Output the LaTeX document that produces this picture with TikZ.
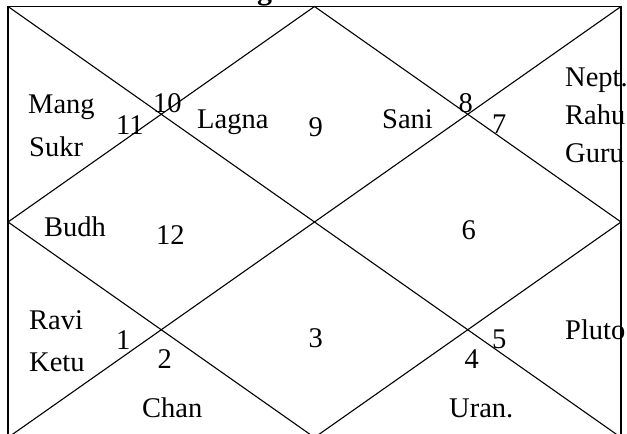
\documentclass[tikz,border=0pt]{standalone}
\usepackage{fontspec}
\setmainfont{Liberation Serif}
\begin{document}
\begin{tikzpicture}[x=1pt,y=-1pt,
  lbl/.style={anchor=base west, inner sep=0pt, font=\fontsize{28.5}{34}\selectfont},
  border/.style={line width=1.7pt, black},
  inner/.style={line width=1.1pt, black}]
\useasboundingbox (0,0) rectangle (627,434);
% title (only the descender of the g is visible)
\node[anchor=south, inner sep=0pt, font=\fontsize{30}{36}\selectfont\bfseries] (title) at (264.5,6.5) {g};
% corner and midpoint coordinates
\coordinate (TL) at (8,6.5);
\coordinate (TR) at (621,6.5);
\coordinate (BL) at (8,437.5);
\coordinate (BR) at (621,437.5);
\coordinate (TM) at (314.5,6.5);
\coordinate (BM) at (314.5,437.5);
\coordinate (LM) at (8,222);
\coordinate (RM) at (621,222);
% labels
\node[lbl] (mang) at (28,113) {Mang};
\node[lbl] (sukr) at (29,156) {Sukr};
\node[lbl] (h11) at (116,134) {11};
\node[lbl] (h10) at (153,112) {10};
\node[lbl] (lagna) at (197,128) {Lagna};
\node[lbl] (h9) at (308.5,136) {9};
\node[lbl] (sani) at (382,128) {Sani};
\node[lbl] (h8) at (458.5,112) {8};
\node[lbl] (h7) at (492,133) {7};
\node[lbl] (nept) at (565,86) {Nept.};
\node[lbl] (rahu) at (565,124) {Rahu};
\node[lbl] (guru) at (565,162) {Guru};
\node[lbl] (budh) at (44,236) {Budh};
\node[lbl] (h12) at (156,244) {12};
\node[lbl] (h6) at (461.5,239) {6};
\node[lbl] (ravi) at (29,329) {Ravi};
\node[lbl] (ketu) at (29,371) {Ketu};
\node[lbl] (h1) at (116,349) {1};
\node[lbl] (h2) at (157.5,368) {2};
\node[lbl] (h3) at (308.5,347) {3};
\node[lbl] (chan) at (142,417) {Chan};
\node[lbl] (h5) at (492,348) {5};
\node[lbl] (pluto) at (565,339) {Pluto};
\node[lbl] (h4) at (464.5,368) {4};
\node[lbl] (uran) at (449,417) {Uran.};
% chart lines
\draw[inner] (TL) -- (BR);
\draw[inner] (TR) -- (BL);
\draw[inner] (TM) -- (RM) -- (BM) -- (LM) -- cycle;
\draw[border] (TL) -- (TR) -- (BR) -- (BL) -- cycle;
\end{tikzpicture}
\end{document}
